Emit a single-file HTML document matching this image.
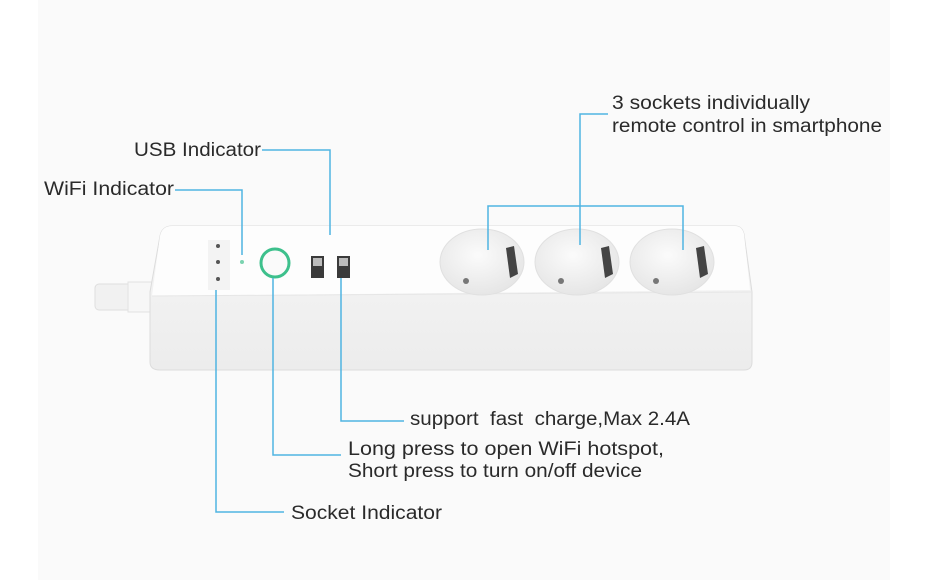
<!DOCTYPE html>
<html><head><meta charset="utf-8"><style>
body{margin:0;background:#fff;}
svg{display:block}
text{font-family:"Liberation Sans",Arial,sans-serif;font-size:19px;fill:#2a2a2a}
</style></head><body>
<svg width="943" height="580" viewBox="0 0 943 580" xmlns="http://www.w3.org/2000/svg">
<defs>
<linearGradient id="front" x1="0" y1="0" x2="0" y2="1"><stop offset="0" stop-color="#f6f6f6"/><stop offset="1" stop-color="#ececec"/></linearGradient>
<radialGradient id="sock" cx="0.45" cy="0.4" r="0.6"><stop offset="0" stop-color="#fbfbfb"/><stop offset="1" stop-color="#e6e6e6"/></radialGradient>
</defs>
<rect x="38" y="0" width="852" height="580" fill="#fafafa"/>
<!-- cord -->
<rect x="95" y="284" width="60" height="26" rx="4" fill="#f1f1f1" stroke="#dedede"/>
<rect x="128" y="282" width="24" height="30" fill="#f7f7f7" stroke="#e2e2e2"/>
<!-- body -->
<path d="M150 292 L160 236 Q162 226 172 226 L735 226 Q742 226 744 234 L752 292 L752 362 Q752 370 744 370 L160 370 Q150 370 150 362 Z" fill="url(#front)" stroke="#dcdcdc"/>
<path d="M160 236 Q162 226 172 226 L735 226 Q742 226 744 234 L750 290 L152 296 Z" fill="#fdfdfd"/>
<line x1="152" y1="296" x2="751" y2="292" stroke="#e6e6e6"/>
<!-- LED panel -->
<rect x="208" y="240" width="22" height="50" fill="#f3f3f3"/>
<circle cx="218" cy="246" r="2" fill="#555"/><circle cx="218" cy="262" r="2" fill="#555"/><circle cx="218" cy="279" r="2" fill="#555"/>
<circle cx="242" cy="262" r="2" fill="#7bd3b0"/>
<circle cx="275" cy="263" r="14" fill="#fafafa" stroke="#3dc08c" stroke-width="3"/>
<rect x="311" y="256" width="13" height="22" fill="#3a3a3a"/><rect x="337" y="256" width="13" height="22" fill="#3a3a3a"/>
<rect x="313" y="258" width="9" height="8" fill="#bbb"/><rect x="339" y="258" width="9" height="8" fill="#bbb"/>
<!-- sockets -->
<g>
<ellipse cx="482" cy="262" rx="42" ry="33" fill="url(#sock)" stroke="#e0e0e0"/>
<ellipse cx="577" cy="262" rx="42" ry="33" fill="url(#sock)" stroke="#e0e0e0"/>
<ellipse cx="672" cy="262" rx="42" ry="33" fill="url(#sock)" stroke="#e0e0e0"/>
<path d="M506 248 l8 -2 l4 28 l-8 4 Z" fill="#444"/><path d="M601 248 l8 -2 l4 28 l-8 4 Z" fill="#444"/><path d="M696 248 l8 -2 l4 28 l-8 4 Z" fill="#444"/>
<circle cx="466" cy="281" r="3" fill="#777"/><circle cx="561" cy="281" r="3" fill="#777"/><circle cx="656" cy="281" r="3" fill="#777"/>
</g>
<!-- lines -->
<g stroke="#4fb4e2" stroke-width="1.5" fill="none">
<polyline points="262,150 330,150 330,235"/>
<polyline points="175,190 242,190 242,255"/>
<polyline points="608,114 580,114 580,245"/>
<polyline points="488,250 488,206 683,206 683,250"/>
<polyline points="216,290 216,512 284,512"/>
<polyline points="273,278 273,455 341,455"/>
<polyline points="341,278 341,421 404,421"/>
</g>
<text x="134" y="156" textLength="127" lengthAdjust="spacingAndGlyphs">USB Indicator</text>
<text x="44" y="195" textLength="130" lengthAdjust="spacingAndGlyphs">WiFi Indicator</text>
<text x="612" y="109" textLength="198" lengthAdjust="spacingAndGlyphs">3 sockets individually</text>
<text x="612" y="132" textLength="270" lengthAdjust="spacingAndGlyphs">remote control in smartphone</text>
<text x="410" y="425" xml:space="preserve" textLength="280" lengthAdjust="spacingAndGlyphs">support  fast  charge,Max 2.4A</text>
<text x="348" y="455" textLength="316" lengthAdjust="spacingAndGlyphs">Long press to open WiFi hotspot,</text>
<text x="348" y="477" textLength="294" lengthAdjust="spacingAndGlyphs">Short press to turn on/off device</text>
<text x="291" y="519" textLength="151" lengthAdjust="spacingAndGlyphs">Socket Indicator</text>
</svg>
</body></html>
